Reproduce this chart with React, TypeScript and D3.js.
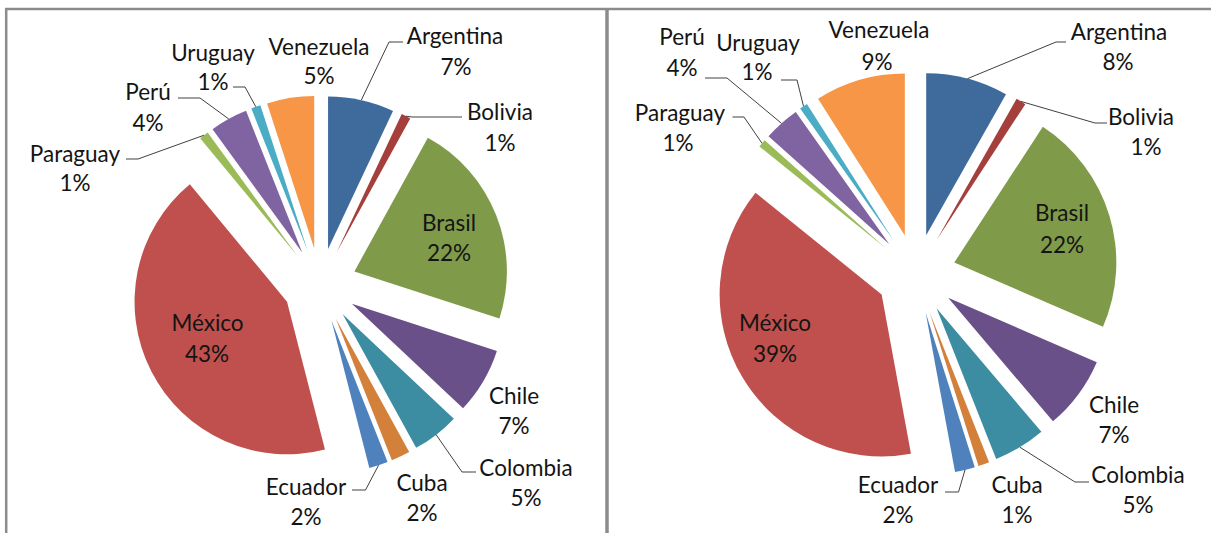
import React from "react";
import * as d3 from "d3";

// ---------- data ----------
const countries = ["Argentina", "Bolivia", "Brasil", "Chile", "Colombia", "Cuba", "Ecuador", "México", "Paraguay", "Perú", "Uruguay", "Venezuela"];
const valuesLeft = [7, 1, 22, 7, 5, 2, 2, 43, 1, 4, 1, 5];
const valuesRight = [8.2, 1.0, 22.3, 7.3, 5.2, 1.1, 2.0, 38.7, 0.8, 3.6, 0.8, 9.0];
const sliceColors = ["#3F6A9C", "#A43F3C", "#7F9B4A", "#6A5088", "#3C8CA2", "#D3803A", "#4F81BD", "#C0504D", "#9BBB59", "#8064A2", "#4BACC6", "#F79646"];

// ---------- layout (label placement, not data) ----------
type Lab = { n: [number, number]; p: [number, number]; e?: [number, number]; h?: number; inside?: boolean };
const layoutLeft: Lab[] = [
  { n: [455, 36], p: [456, 67], e: [389, 42], h: 403 },
  { n: [500, 112], p: [500, 143], e: [412, 117], h: 462 },
  { n: [449, 223], p: [449, 253], inside: true },
  { n: [514, 396], p: [514, 426] },
  { n: [526, 468], p: [526, 498], e: [462, 472], h: 476 },
  { n: [422, 483], p: [422, 513] },
  { n: [306, 487], p: [306, 517], e: [365.5, 490], h: 352 },
  { n: [207.5, 323], p: [207, 354], inside: true },
  { n: [75, 154], p: [75, 183], e: [138, 159], h: 126 },
  { n: [148, 92], p: [148, 123], e: [200, 98], h: 178 },
  { n: [213, 53], p: [213, 82], e: [245, 87], h: 233 },
  { n: [319, 47], p: [319, 76] },
];
const layoutRight: Lab[] = [
  { n: [1119, 32], p: [1118, 62], e: [1056, 42], h: 1066 },
  { n: [1141, 117], p: [1146, 147], e: [1095, 123], h: 1107 },
  { n: [1062, 213], p: [1062, 245], inside: true },
  { n: [1114, 405], p: [1114, 435] },
  { n: [1138, 475], p: [1138, 505], e: [1075, 482], h: 1089 },
  { n: [1017, 485], p: [1017, 515] },
  { n: [898, 485], p: [898, 515], e: [958.5, 492], h: 945 },
  { n: [775, 323], p: [775, 354], inside: true },
  { n: [680, 113], p: [678, 143], e: [744, 117], h: 732.5 },
  { n: [682, 37], p: [682, 68], e: [727, 78], h: 705 },
  { n: [758, 43], p: [757, 72], e: [797, 80], h: 781 },
  { n: [879, 30], p: [877, 62] },
];

const FONT = "Lato, 'Noto Sans', sans-serif";
const FS = 22.5;

function Pie({ values, cx, cy, r, explode, layout }: { values: number[]; cx: number; cy: number; r: number; explode: number; layout: Lab[] }) {
  const pie = d3.pie<number>().sort(null).value((v) => v).startAngle(0).endAngle(2 * Math.PI);
  const arcs = pie(values);
  const arcGen = d3.arc<d3.PieArcDatum<number>>().innerRadius(0).outerRadius(r);
  const total = d3.sum(values);
  return (
    <g>
      {arcs.map((a, i) => {
        const mid = (a.startAngle + a.endAngle) / 2;
        const tx = cx + explode * Math.sin(mid);
        const ty = cy - explode * Math.cos(mid);
        const L = layout[i];
        const sx = tx + r * Math.sin(mid);
        const sy = ty - r * Math.cos(mid);
        return (
          <g key={countries[i]}>
            <path d={arcGen(a) || ""} transform={`translate(${tx},${ty})`} fill={sliceColors[i]} />
            {L.e && (
              <polyline
                points={`${sx},${sy} ${L.e[0]},${L.e[1]} ${L.h},${L.e[1]}`}
                fill="none"
                stroke="#404040"
                strokeWidth={1}
              />
            )}
          </g>
        );
      })}
      {arcs.map((a, i) => {
        const L = layout[i];
        const pct = Math.round((values[i] / total) * 100) + "%";
        return (
          <g key={"t" + i} fontFamily={FONT} fontSize={FS} fill="#141414" textAnchor="middle">
            <text x={L.n[0]} y={L.n[1]} dy="0.36em">{countries[i]}</text>
            <text x={L.p[0]} y={L.p[1]} dy="0.36em">{pct}</text>
          </g>
        );
      })}
    </g>
  );
}

export default function App() {
  const W = 1211;
  const H = 533;
  return (
    <svg width={W} height={H} style={{ position: "absolute", left: 0, top: 0, background: "#fff" }}>
      <rect x={0} y={0} width={W} height={H} fill="#fff" />
      <line x1={5} x2={W} y1={9} y2={9} stroke="#8c8c8c" strokeWidth={2.5} />
      <line x1={6.2} x2={6.2} y1={8} y2={H} stroke="#8c8c8c" strokeWidth={2.5} />
      <line x1={607} x2={607} y1={8} y2={H} stroke="#8c8c8c" strokeWidth={3.5} />
      <Pie values={valuesLeft} cx={320} cy={285} r={152.5} explode={37} layout={layoutLeft} />
      <Pie values={valuesRight} cx={916} cy={274} r={162} explode={40} layout={layoutRight} />
    </svg>
  );
}
